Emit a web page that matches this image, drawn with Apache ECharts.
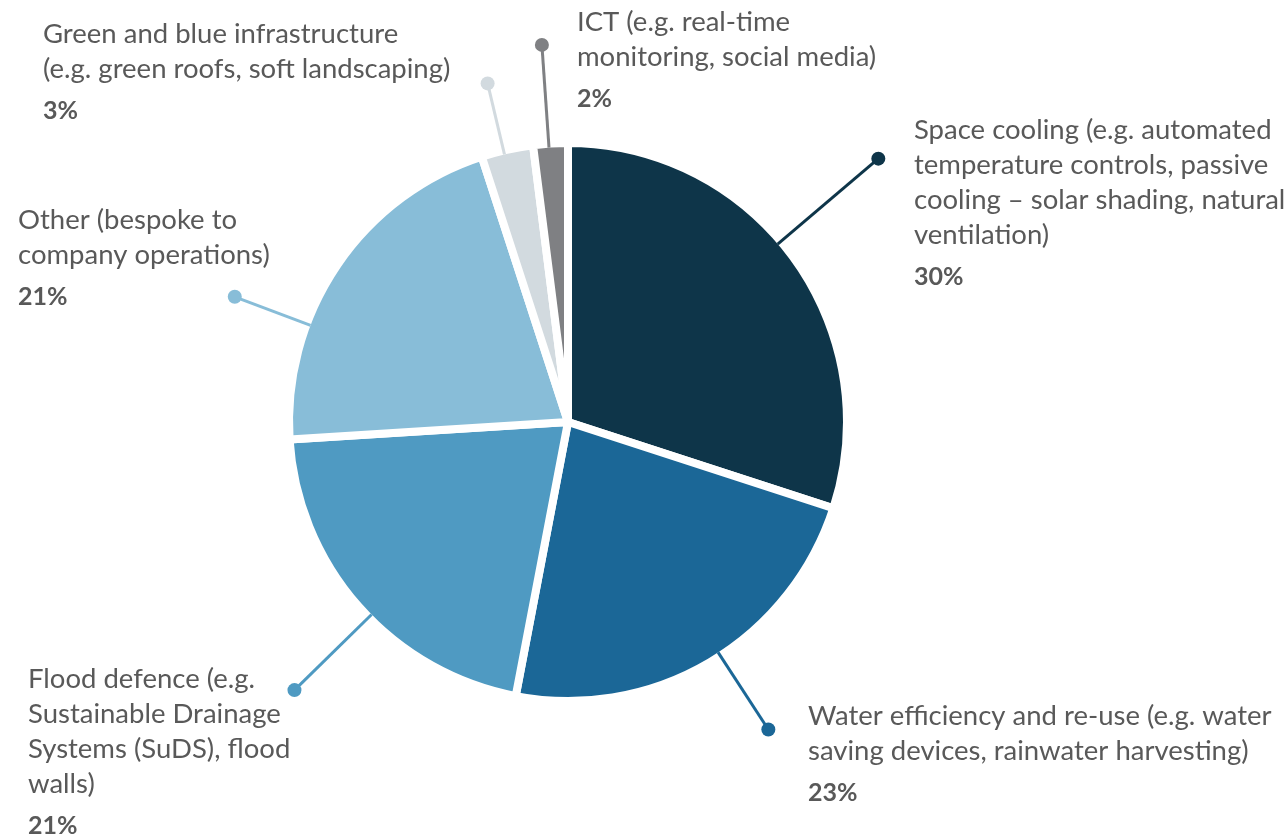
<!DOCTYPE html>
<html>
<head>
<meta charset="utf-8">
<script src="https://cdn.jsdelivr.net/npm/echarts@6/dist/echarts.min.js"></script>
<style>
  html, body { margin: 0; padding: 0; background: #ffffff; }
  #chart { width: 1287px; height: 836px; }
</style>
</head>
<body>
<div id="chart"></div>
<script>
// Adaptation measures, share of responses (%)
const categories = [
  'Space cooling (e.g. automated\ntemperature controls, passive\ncooling – solar shading, natural\nventilation)',
  'Water efficiency and re-use (e.g. water\nsaving devices, rainwater harvesting)',
  'Flood defence (e.g.\nSustainable Drainage\nSystems (SuDS), flood\nwalls)',
  'Other (bespoke to\ncompany operations)',
  'Green and blue infrastructure\n(e.g. green roofs, soft landscaping)',
  'ICT (e.g. real-time\nmonitoring, social media)'
];
const shares = [30, 23, 21, 21, 3, 2];

const colors = ['#0e3549', '#1b6797', '#4f9ac2', '#88bdd8', '#d2dadf', '#7f8083'];

// Layout settings for the callouts
const CENTER = [568, 422];
const PIE_R = 279;
const EDGE_R = 275;
const leaderFrac = [0.46, 0.47, 0.46, 0.32, 0.43, 0.45]; // where along each slice the leader leaves
const leaderLen = [407, 367, 383, 356, 348, 378];        // distance of the dot from the centre
const labelAt = [[914, 113], [808, 699], [28, 662], [18, 203], [43, 17], [577, 5]];

const TEXT = '#595959';
const FONT = 'Lato';

const chart = echarts.init(document.getElementById('chart'), null, { renderer: 'canvas' });

// cumulative start of each slice, in percent of the circle
const starts = [];
shares.reduce((acc, v, i) => { starts[i] = acc; return acc + v; }, 0);
const total = shares.reduce((a, b) => a + b, 0);

const leaderSeries = shares.map((v, i) => {
  const a = (starts[i] + leaderFrac[i] * v) / total * 100;
  return {
    type: 'line',
    coordinateSystem: 'polar',
    silent: true,
    animation: false,
    z: 3,
    lineStyle: { color: colors[i], width: 3 },
    itemStyle: { color: colors[i] },
    showSymbol: true,
    data: [
      { value: [EDGE_R, a], symbol: 'none' },
      { value: [leaderLen[i], a], symbol: 'circle', symbolSize: 14 }
    ]
  };
});

const option = {
  backgroundColor: '#ffffff',
  animation: false,
  polar: { center: CENTER, radius: 420 },
  angleAxis: { type: 'value', min: 0, max: 100, startAngle: 90, clockwise: true, show: false },
  radiusAxis: { type: 'value', min: 0, max: 420, show: false },
  series: [
    {
      type: 'pie',
      center: CENTER,
      radius: PIE_R,
      startAngle: 90,
      clockwise: true,
      silent: true,
      z: 2,
      itemStyle: { borderColor: '#ffffff', borderWidth: 8 },
      labelLine: { show: false },
      label: {
        show: true,
        position: 'outside',
        width: 470,
        overflow: 'none',
        align: 'left',
        fontFamily: FONT,
        formatter: p => p.name.split('\n').map(s => '{n|' + s + '}').join('\n') + '\n{p|' + p.value + '%}',
        rich: {
          n: { fontFamily: FONT, fontSize: 27.5, lineHeight: 35, color: TEXT },
          p: { fontFamily: FONT, fontSize: 25, fontWeight: 'bold', lineHeight: 47, color: TEXT }
        }
      },
      labelLayout: params => ({
        x: labelAt[params.dataIndex][0],
        y: labelAt[params.dataIndex][1],
        align: 'left',
        verticalAlign: 'top'
      }),
      data: categories.map((name, i) => ({
        name: name,
        value: shares[i],
        itemStyle: { color: colors[i] }
      }))
    },
    ...leaderSeries
  ]
};

chart.setOption(option);
</script>
</body>
</html>
